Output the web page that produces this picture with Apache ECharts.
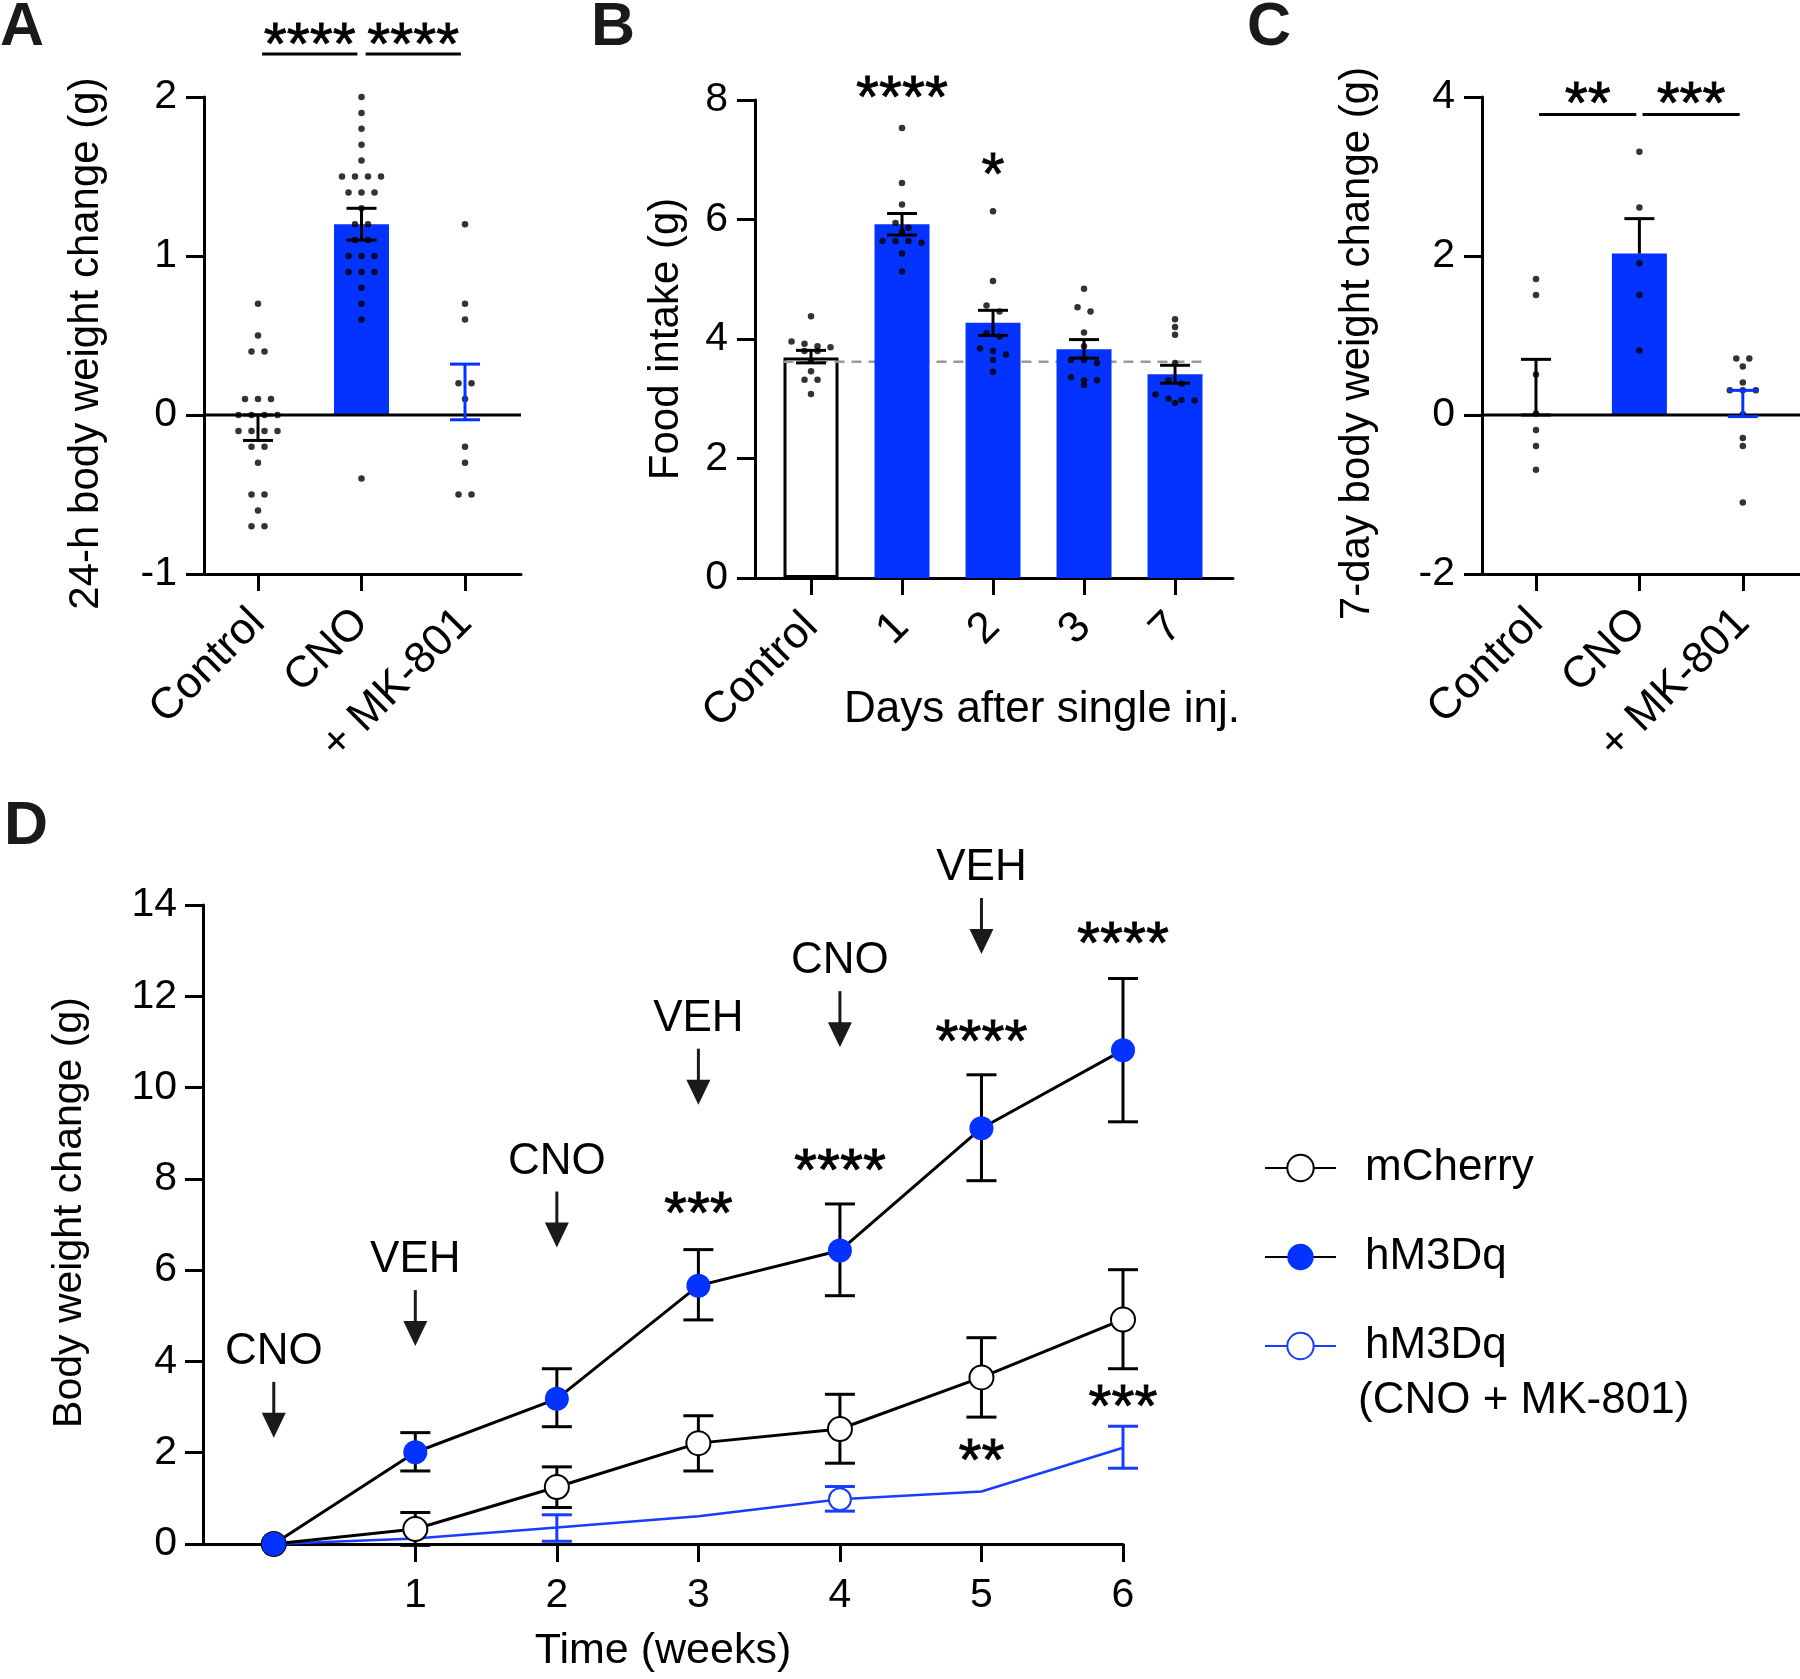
<!DOCTYPE html>
<html><head><meta charset="utf-8">
<script src="https://cdn.jsdelivr.net/npm/echarts@6/dist/echarts.min.js"></script>
<style>html,body{margin:0;padding:0;background:#fff}#c{width:1800px;height:1679px}</style>
</head><body><div id="c"></div><script>
// ================= DATA =================
// Panel A: 24-h body weight change (g)
const catsA = ['Control', 'CNO', '+ MK-801'];
const dotsA_control = [0.7,0.5,0.4,0.4,0.1,0.1,0.1,0,0,0,0,-0.1,-0.1,-0.1,-0.1,-0.2,-0.2,-0.3,-0.5,-0.5,-0.6,-0.7,-0.7];
const dotsA_cno = [2.0,1.9,1.8,1.7,1.6,1.5,1.5,1.5,1.5,1.4,1.4,1.4,1.3,1.2,1.2,1.1,1.1,1.0,1.0,1.0,0.9,0.9,0.9,0.8,0.7,0.6,-0.4];
const dotsA_mk = [1.2,0.7,0.6,0.2,0.2,0.1,-0.2,-0.3,-0.5,-0.5];
const meanA = [-0.08, 1.20, 0.15];
const barA = [null, 1.20, null];
const errLoA = [-0.16, 1.10, -0.03];
const errHiA = [0.00, 1.30, 0.32];
const sigA = ['****', '****'];

// Panel B: Food intake (g)
const catsB = ['Control', '1', '2', '3', '7'];
const dotsB_control = [4.38,3.96,3.92,3.88,3.86,3.80,3.80,3.64,3.46,3.32,3.32,3.08];
const dotsB_d1 = [7.53,6.61,6.25,5.94,5.86,5.79,5.64,5.64,5.64,5.61,5.43,5.13];
const dotsB_d2 = [6.14,4.97,4.56,4.46,4.10,4.04,3.84,3.80,3.74,3.65,3.45];
const dotsB_d3 = [4.84,4.53,4.46,4.11,3.88,3.65,3.65,3.60,3.36,3.31,3.31,3.23];
const dotsB_d7 = [4.33,4.20,4.07,3.60,3.31,3.25,3.07,3.00,2.98,2.97,2.93];
const barB = [3.69, 5.92, 4.27, 3.83, 3.41];
const errLoB = [3.60, 5.74, 4.06, 3.68, 3.26];
const errHiB = [3.81, 6.10, 4.48, 3.99, 3.56];
const refLineB = 3.62;
const sigB = ['', '****', '*', '', ''];

// Panel C: 7-day body weight change (g)
const catsC = ['Control', 'CNO', '+ MK-801'];
const dotsC_control = [1.71,1.51,0.51,0.02,-0.19,-0.39,-0.69];
const dotsC_cno = [3.31,2.61,1.91,1.51,0.81];
const dotsC_mk = [0.71,0.71,0.61,0.41,0.31,0.31,0.31,0.01,-0.29,-0.39,-1.10];
const meanC = [0.35, 2.03, 0.145];
const barC = [null, 2.03, null];
const errLoC = [0.00, 2.03, -0.02];
const errHiC = [0.70, 2.47, 0.31];
const sigC = ['**', '***'];

// Panel D: body weight change over weeks
const weeks = [0, 1, 2, 3, 4, 5, 6];
const mCherry   = [0, 0.33, 1.25, 2.21, 2.52, 3.65, 4.92];
const mCherryLo = [null, -0.03, 0.80, 1.60, 1.77, 2.78, 3.84];
const mCherryHi = [null, 0.69, 1.69, 2.81, 3.28, 4.52, 6.01];
const hM3Dq     = [0, 2.01, 3.18, 5.66, 6.43, 9.11, 10.82];
const hM3DqLo   = [null, 1.60, 2.57, 4.91, 5.44, 7.96, 9.25];
const hM3DqHi   = [null, 2.44, 3.84, 6.45, 7.45, 10.28, 12.39];
const hM3DqMK   = [0, 0.12, 0.36, 0.61, 0.98, 1.15, 2.11];
const hM3DqMKLo = [null, null, 0.06, null, 0.72, null, 1.66];
const hM3DqMKHi = [null, null, 0.64, null, 1.26, null, 2.58];
const injections = ['CNO', 'VEH', 'CNO', 'VEH', 'CNO', 'VEH'];
const sigUpperD = ['', '', '', '***', '****', '****', '****'];
const sigLowerD = ['', '', '', '', '', '**', '***'];
const seriesNames = ['mCherry', 'hM3Dq', 'hM3Dq (CNO + MK-801)'];

// ================= LAYOUT / STYLE =================
const FONT = '"Liberation Sans", Arial, Helvetica, sans-serif';
const BLUE = '#0433ff';
const BLUE_LINE = '#1a3cff';
const G = {
  A: {left: 204, top: 97, width: 317, height: 477, xMin: -0.5217, xMax: 2.541, yMin: -1, yMax: 2, yInt: 1},
  B: {left: 755, top: 100, width: 478, height: 478, xMin: -0.6154, xMax: 4.637, yMin: 0, yMax: 8, yInt: 2},
  C: {left: 1482, top: 97, width: 318, height: 477, xMin: -0.522, xMax: 2.553, yMin: -2, yMax: 4, yInt: 2},
  D: {left: 203, top: 905, width: 920, height: 639, xMin: -0.5, xMax: 6, yMin: 0, yMax: 14, yInt: 2}
};
const DOT_SPACING = 13, ROW_TOL = 6.5, CAP_W = 30, BAR_W = 55, STAR_FS = 59;
const TICK_FS = 41, CAT_FS = 44, CAT_MARGIN = 42;
const sigLineA = {y: 2.27, starY: 2.40, inset: 0.04};
const sigLineC = {y: 3.78, starY: 4.06, inset: 0.03};
const sigStarYB = [null, 8.24, 6.95, null, null];
const injTextY = [4.21, 6.22, 8.38, 11.51, 12.77, 14.81];
const starUpperYD = [null, null, null, 7.49, 8.44, 11.26, 13.41];
const starLowerYD = [null, null, null, null, null, 2.09, 3.26];

function pxX(g) { return g.width / (g.xMax - g.xMin); }
function pxY(g) { return g.height / (g.yMax - g.yMin); }

// beeswarm: group near-equal values into rows and centre each row on the category
function swarm(values, center, g) {
  const sx = pxX(g), sy = pxY(g);
  const sorted = values.slice().sort((a, b) => b - a);
  const rows = [];
  sorted.forEach(v => {
    const last = rows[rows.length - 1];
    if (last && (last[0] - v) * sy <= ROW_TOL) last.push(v); else rows.push([v]);
  });
  const out = [];
  rows.forEach(r => r.forEach((v, i) => out.push([center + (i - (r.length - 1) / 2) * DOT_SPACING / sx, v])));
  return out;
}

const axLine = {show: true, onZero: false, lineStyle: {color: '#000', width: 3}};
const axTick = {show: true, length: 18, lineStyle: {color: '#000', width: 3}};

function yAxis(gi, g, name, nameGap, pad) {
  return {type: 'value', gridIndex: gi, min: g.yMin, max: g.yMax, interval: g.yInt,
    axisLine: axLine, axisTick: axTick, splitLine: {show: false},
    axisLabel: {color: '#000', fontSize: TICK_FS, fontFamily: FONT, margin: 27},
    name, nameLocation: 'middle', nameGap, nameRotate: 90,
    nameTextStyle: {color: '#000', fontSize: 42, fontFamily: FONT, padding: pad}};
}
function xAxisCat(gi, g, cats, margin) {
  const vals = cats.map((c, i) => i);
  return {type: 'value', gridIndex: gi, min: g.xMin, max: g.xMax,
    axisLine: axLine, splitLine: {show: false},
    axisTick: {show: true, length: 17, customValues: vals, lineStyle: {color: '#000', width: 3}},
    axisLabel: {customValues: vals, formatter: v => cats[Math.round(v)], rotate: 45, margin,
      color: '#000', fontSize: CAT_FS, fontFamily: FONT}};
}

function dots(gi, arr, center, g) {
  return {type: 'scatter', xAxisIndex: gi, yAxisIndex: gi, z: 5, silent: true,
    symbolSize: 6.5, itemStyle: {color: '#000'}, data: swarm(arr, center, g)};
}
function bars(gi, vals, color, border, z) {
  const data = [];
  vals.forEach((v, i) => { if (v != null) data.push([i, v]); });
  return {type: 'bar', xAxisIndex: gi, yAxisIndex: gi, z, silent: true, barWidth: BAR_W, barGap: '-100%',
    itemStyle: {color, borderColor: border || color, borderWidth: border ? 3 : 0}, data};
}
function errBars(gi, xs, mean, lo, hi, colors) {
  const data = [];
  xs.forEach((x, i) => { if (lo[i] != null) data.push([x, lo[i], hi[i], mean[i], i]); });
  return {type: 'custom', xAxisIndex: gi, yAxisIndex: gi, z: 7, silent: true, data,
    renderItem: (p, api) => {
      const x = api.value(0), l = api.value(1), h = api.value(2), m = api.value(3), idx = api.value(4);
      const a = api.coord([x, l]), b = api.coord([x, h]);
      const st = {stroke: colors[idx], lineWidth: 3};
      const ch = [{type: 'line', shape: {x1: a[0], y1: a[1], x2: b[0], y2: b[1]}, style: st}];
      if (h > m) ch.push({type: 'line', shape: {x1: b[0] - CAP_W / 2, y1: b[1], x2: b[0] + CAP_W / 2, y2: b[1]}, style: st});
      if (l < m) ch.push({type: 'line', shape: {x1: a[0] - CAP_W / 2, y1: a[1], x2: a[0] + CAP_W / 2, y2: a[1]}, style: st});
      return {type: 'group', children: ch};
    }};
}
function starText(x, y, t) {
  return {type: 'text', style: {text: t, x, y: y + 0.25 * STAR_FS, fill: '#000',
    font: 'normal ' + STAR_FS + 'px ' + FONT, align: 'center', verticalAlign: 'middle',
    stroke: '#000', lineWidth: 0.8}};
}
function sigBrackets(gi, sig, cfg) {
  return {type: 'custom', xAxisIndex: gi, yAxisIndex: gi, z: 8, silent: true,
    data: sig.map((t, i) => [i, i + 1, i]),
    renderItem: (p, api) => {
      const i = api.value(2);
      const a = api.coord([api.value(0) + cfg.inset, cfg.y]), b = api.coord([api.value(1) - cfg.inset, cfg.y]);
      const s = api.coord([(api.value(0) + api.value(1)) / 2, cfg.starY]);
      return {type: 'group', children: [
        {type: 'line', shape: {x1: a[0], y1: a[1], x2: b[0], y2: b[1]}, style: {stroke: '#000', lineWidth: 3}},
        starText(s[0], s[1], sig[i])]};
    }};
}
function zeroLine(gi, g) {
  return {type: 'line', xAxisIndex: gi, yAxisIndex: gi, z: 6, silent: true, symbol: 'none',
    lineStyle: {color: '#000', width: 3}, data: [[g.xMin, 0], [g.xMax, 0]]};
}

const series = [];
// ---- A ----
series.push(bars(0, barA, BLUE, null, 3));
series.push(zeroLine(0, G.A));
series.push(dots(0, dotsA_control, 0, G.A), dots(0, dotsA_cno, 1, G.A), dots(0, dotsA_mk, 2, G.A));
series.push(errBars(0, [0, 1, 2], meanA, errLoA, errHiA, ['#000', '#000', BLUE]));
series.push(sigBrackets(0, sigA, sigLineA));
// ---- B ----
series.push(bars(1, barB.map((v, i) => i === 0 ? v : null), '#fff', '#000', 2));
series.push({type: 'line', xAxisIndex: 1, yAxisIndex: 1, z: 3, silent: true, symbol: 'none',
  lineStyle: {color: '#999', width: 2.5, type: [10, 7]},
  data: [[0 - BAR_W / 2 / pxX(G.B), refLineB], [catsB.length - 1 + BAR_W / 2 / pxX(G.B), refLineB]]});
series.push(bars(1, barB.map((v, i) => i === 0 ? null : v), BLUE, null, 4));
[dotsB_control, dotsB_d1, dotsB_d2, dotsB_d3, dotsB_d7].forEach((arr, i) => series.push(dots(1, arr, i, G.B)));
series.push(errBars(1, [0, 1, 2, 3, 4], barB, errLoB, errHiB, ['#000', '#000', '#000', '#000', '#000']));
series.push({type: 'custom', xAxisIndex: 1, yAxisIndex: 1, z: 8, silent: true,
  data: sigB.map((t, i) => [i, sigStarYB[i] == null ? 0 : sigStarYB[i], i]).filter(d => sigB[d[2]] !== ''),
  renderItem: (p, api) => { const c = api.coord([api.value(0), api.value(1)]); return starText(c[0], c[1], sigB[api.value(2)]); }});
// ---- C ----
series.push(bars(2, barC, BLUE, null, 3));
series.push(zeroLine(2, G.C));
series.push(dots(2, dotsC_control, 0, G.C), dots(2, dotsC_cno, 1, G.C), dots(2, dotsC_mk, 2, G.C));
series.push(errBars(2, [0, 1, 2], meanC, errLoC, errHiC, ['#000', '#000', BLUE]));
series.push(sigBrackets(2, sigC, sigLineC));
// ---- D ----
series.push({name: seriesNames[2], type: 'line', xAxisIndex: 3, yAxisIndex: 3, z: 2, silent: true,
  symbol: 'emptyCircle', symbolSize: 22, color: BLUE_LINE,
  lineStyle: {color: BLUE_LINE, width: 2.5}, itemStyle: {color: BLUE_LINE, borderWidth: 2.5},
  data: weeks.map((w, i) => i === 4 ? [w, hM3DqMK[i]] : {value: [w, hM3DqMK[i]], symbol: 'none'})});
series.push({name: seriesNames[0], type: 'line', xAxisIndex: 3, yAxisIndex: 3, z: 3, silent: true,
  symbol: 'emptyCircle', symbolSize: 24, color: '#000',
  lineStyle: {color: '#000', width: 3}, itemStyle: {color: '#000', borderWidth: 3},
  data: weeks.map((w, i) => [w, mCherry[i]])});
series.push({name: seriesNames[1], type: 'line', xAxisIndex: 3, yAxisIndex: 3, z: 4, silent: true,
  symbol: 'circle', symbolSize: 24, color: BLUE,
  lineStyle: {color: '#000', width: 3}, itemStyle: {color: BLUE, borderWidth: 0},
  data: weeks.map((w, i) => [w, hM3Dq[i]])});
const errD = (mean, lo, hi, col) => Object.assign(errBars(3, weeks, mean, lo, hi, weeks.map(() => col)), {z: 1});
series.push(errD(mCherry, mCherryLo, mCherryHi, '#000'));
series.push(errD(hM3Dq, hM3DqLo, hM3DqHi, '#000'));
series.push(errD(hM3DqMK, hM3DqMKLo, hM3DqMKHi, BLUE_LINE));
// injection annotations (label + arrow)
series.push({type: 'custom', xAxisIndex: 3, yAxisIndex: 3, z: 9, silent: true,
  data: injections.map((t, i) => [weeks[i], injTextY[i], i]),
  renderItem: (p, api) => {
    const c = api.coord([api.value(0), api.value(1)]);
    const i = api.value(2);
    const y0 = c[1] + 30, y1 = c[1] + 86, hh = 25, hw = 12;
    return {type: 'group', children: [
      {type: 'text', style: {text: injections[i], x: c[0], y: c[1], fill: '#000', font: 'normal 44px ' + FONT, align: 'center', verticalAlign: 'middle'}},
      {type: 'line', shape: {x1: c[0], y1: y0, x2: c[0], y2: y1 - hh + 2}, style: {stroke: '#1a1a1a', lineWidth: 3}},
      {type: 'polygon', shape: {points: [[c[0] - hw, y1 - hh], [c[0] + hw, y1 - hh], [c[0], y1]]}, style: {fill: '#1a1a1a'}}
    ]};
  }});
series.push({type: 'custom', xAxisIndex: 3, yAxisIndex: 3, z: 9, silent: true,
  data: weeks.map((w, i) => [w, starUpperYD[i] == null ? 0 : starUpperYD[i], starLowerYD[i] == null ? 0 : starLowerYD[i], i])
    .filter(d => sigUpperD[d[3]] !== '' || sigLowerD[d[3]] !== ''),
  renderItem: (p, api) => {
    const i = api.value(3), ch = [];
    if (sigUpperD[i]) { const c = api.coord([api.value(0), api.value(1)]); ch.push(starText(c[0], c[1], sigUpperD[i])); }
    if (sigLowerD[i]) { const c = api.coord([api.value(0), api.value(2)]); ch.push(starText(c[0], c[1], sigLowerD[i])); }
    return {type: 'group', children: ch};
  }});

const letter = (t, x, y) => ({type: 'text', left: x, top: y, style: {text: t, fill: '#1a1a1a', font: 'bold 61px ' + FONT}});

const option = {
  animation: false,
  backgroundColor: '#fff',
  grid: [G.A, G.B, G.C, G.D].map(g => ({left: g.left, top: g.top, width: g.width, height: g.height, containLabel: false})),
  xAxis: [
    xAxisCat(0, G.A, catsA, CAT_MARGIN),
    Object.assign(xAxisCat(1, G.B, catsB, CAT_MARGIN), {name: 'Days after single inj.', nameLocation: 'middle', nameGap: 110,
      nameMoveOverlap: false,
      nameTextStyle: {color: '#000', fontSize: 44, fontFamily: FONT, padding: [0, 0, 0, 96]}}),
    xAxisCat(2, G.C, catsC, CAT_MARGIN),
    {type: 'value', gridIndex: 3, min: G.D.xMin, max: G.D.xMax, axisLine: axLine, splitLine: {show: false},
      axisTick: {show: true, length: 18, customValues: weeks.slice(1), lineStyle: {color: '#000', width: 3}},
      axisLabel: {customValues: weeks.slice(1), color: '#000', fontSize: TICK_FS, fontFamily: FONT, margin: 31},
      name: 'Time (weeks)', nameLocation: 'middle', nameGap: 86,
      nameTextStyle: {color: '#000', fontSize: 43, fontFamily: FONT}}
  ],
  yAxis: [
    yAxis(0, G.A, '24-h body weight change (g)', 97, [0, 16, 0, 0]),
    yAxis(1, G.B, 'Food intake (g)', 68, 0),
    yAxis(2, G.C, '7-day body weight change (g)', 104, [0, 16, 0, 0]),
    Object.assign(yAxis(3, G.D, 'Body weight change (g)', 113, [0, 0, 0, 24]), {
      nameTextStyle: {color: '#000', fontSize: 41, fontFamily: FONT, padding: [0, 0, 0, 24]},
      axisLabel: {color: '#000', fontSize: TICK_FS, fontFamily: FONT, margin: 26}})
  ],
  legend: {data: seriesNames, orient: 'vertical', left: 1259, top: 1140, itemWidth: 71, itemHeight: 33, itemGap: 43,
    selectedMode: false, formatter: n => n === seriesNames[2] ? 'hM3Dq' : n,
    textStyle: {color: '#000', fontSize: 44, fontFamily: FONT, lineHeight: 46, padding: [0, 0, 0, 24]}},
  graphic: [
    letter('A', 0, -2), letter('B', 591, -2), letter('C', 1247, -2), letter('D', 4, 797),
    {type: 'text', left: 1358, top: 1379, style: {text: '(CNO + MK-801)', fill: '#000', font: 'normal 44px ' + FONT}}
  ],
  series
};
const chart = echarts.init(document.getElementById('c'), null, {renderer: 'canvas'});
chart.setOption(option);
</script></body></html>
